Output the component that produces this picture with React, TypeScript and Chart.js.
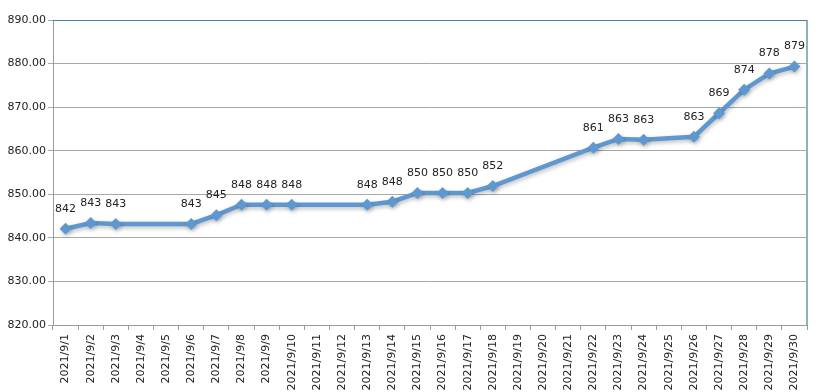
import React, { useEffect, useRef } from "react";
import { Chart, registerables } from "chart.js";

Chart.register(...registerables);

const categories: string[] = [
  "2021/9/1", "2021/9/2", "2021/9/3", "2021/9/4", "2021/9/5", "2021/9/6",
  "2021/9/7", "2021/9/8", "2021/9/9", "2021/9/10", "2021/9/11", "2021/9/12",
  "2021/9/13", "2021/9/14", "2021/9/15", "2021/9/16", "2021/9/17", "2021/9/18",
  "2021/9/19", "2021/9/20", "2021/9/21", "2021/9/22", "2021/9/23", "2021/9/24",
  "2021/9/25", "2021/9/26", "2021/9/27", "2021/9/28", "2021/9/29", "2021/9/30",
];

const values: (number | null)[] = [
  842.1, 843.4, 843.2, null, null, 843.2,
  845.2, 847.6, 847.6, 847.6, null, null,
  847.6, 848.3, 850.3, 850.3, 850.3, 851.9,
  null, null, null, 860.7, 862.7, 862.5,
  null, 863.2, 868.6, 874.0, 877.7, 879.3,
];

const yMin = 820;
const yMax = 890;
const yStep = 10;

const FONT = "'DejaVu Sans', Verdana, sans-serif";

const labelsPlugin = {
  id: "pointLabels",
  afterDatasetsDraw(chart: any) {
    const ctx = chart.ctx;
    const meta = chart.getDatasetMeta(0);
    ctx.save();
    ctx.font = `11px ${FONT}`;
    ctx.fillStyle = "#222";
    ctx.textAlign = "center";
    ctx.textBaseline = "middle";
    meta.data.forEach((pt: any, i: number) => {
      const v = values[i];
      if (v == null) return;
      ctx.fillText(String(Math.round(v)), pt.x, pt.y - 20);
    });
    ctx.restore();
  },
};

const framePlugin = {
  id: "frame",
  beforeDatasetsDraw(chart: any) {
    const { ctx, chartArea } = chart;
    ctx.save();
    ctx.strokeStyle = "#8db3c3";
    ctx.lineWidth = 2;
    ctx.beginPath();
    ctx.moveTo(chartArea.right, chartArea.top);
    ctx.lineTo(chartArea.right, chartArea.bottom);
    ctx.stroke();
    ctx.strokeStyle = "#3f8799";
    ctx.lineWidth = 1;
    ctx.beginPath();
    ctx.moveTo(chartArea.left, chartArea.top + 0.5);
    ctx.lineTo(chartArea.right, chartArea.top + 0.5);
    ctx.stroke();
    ctx.restore();
  },
  beforeDatasetDraw(chart: any) {
    const ctx = chart.ctx;
    ctx.save();
    ctx.shadowColor = "rgba(0,0,0,0.25)";
    ctx.shadowBlur = 4;
    ctx.shadowOffsetX = 1;
    ctx.shadowOffsetY = 2;
  },
  afterDatasetDraw(chart: any) {
    chart.ctx.restore();
  },
};

export default function App() {
  const ref = useRef<HTMLCanvasElement | null>(null);

  useEffect(() => {
    if (!ref.current) return;
    const chart = new Chart(ref.current, {
      type: "line",
      data: {
        labels: categories,
        datasets: [
          {
            data: values,
            borderColor: "#5f98d0",
            backgroundColor: "#5f98d0",
            borderWidth: 4.5,
            pointStyle: "rectRot",
            pointRadius: 6,
            pointBorderWidth: 0,
            pointBackgroundColor: "#5f98d0",
            spanGaps: true,
            tension: 0,
          },
        ],
      },
      options: {
        animation: false,
        responsive: false,
        maintainAspectRatio: false,
        layout: { padding: { top: 20, right: 16, left: 0, bottom: 0 } },
        plugins: {
          legend: { display: false },
          tooltip: { enabled: false },
          title: { display: false },
        },
        scales: {
          x: {
            type: "category",
            offset: true,
            afterFit: (s: any) => {
              s.height = 67;
            },
            grid: {
              offset: true,
              drawOnChartArea: false,
              drawTicks: true,
              tickLength: 5,
              color: "#9a9a9a",
            },
            border: { color: "#9a9a9a", width: 1 },
            ticks: {
              autoSkip: false,
              maxRotation: 90,
              minRotation: 90,
              color: "#222",
              font: { family: FONT, size: 11 },
              padding: 4,
            },
          },
          y: {
            min: yMin,
            max: yMax,
            afterFit: (s: any) => {
              s.width = 53;
            },
            grid: {
              color: "#a8a8a8",
              tickLength: 5,
              drawTicks: true,
            },
            border: { color: "#9a9a9a", width: 1 },
            ticks: {
              stepSize: yStep,
              color: "#222",
              font: { family: FONT, size: 11 },
              padding: 2,
              callback: (v: any) => Number(v).toFixed(2),
            },
          },
        },
      },
      plugins: [labelsPlugin, framePlugin],
    });
    return () => chart.destroy();
  }, []);

  return (
    <div style={{ position: "absolute", left: 0, top: 0, width: 823, height: 392, background: "#fff" }}>
      <canvas ref={ref} width={823} height={392} style={{ width: 823, height: 392, display: "block" }} />
    </div>
  );
}
